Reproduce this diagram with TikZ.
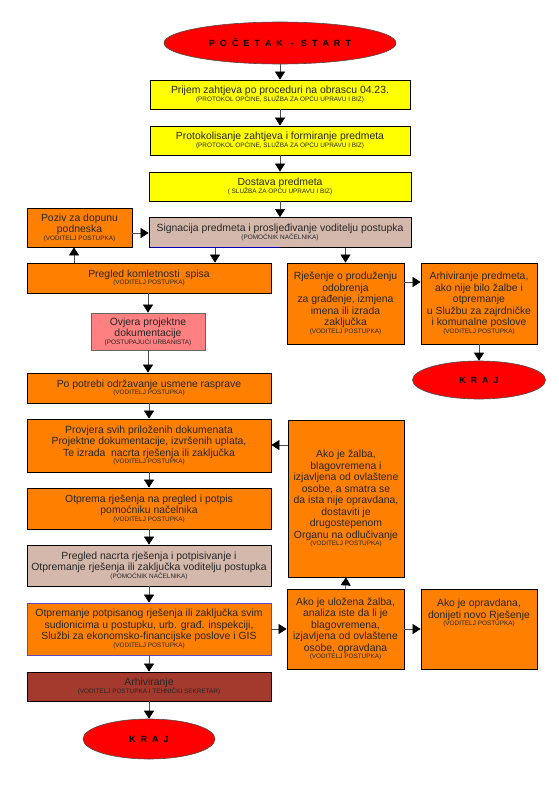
\documentclass[tikz,border=0pt]{standalone}
\usepackage{fontspec}
\setmainfont{Liberation Sans}
\usetikzlibrary{arrows.meta,shapes.geometric,calc}
\definecolor{cyel}{RGB}{255,255,0}
\definecolor{corange}{RGB}{255,128,0}
\definecolor{cbeige}{RGB}{212,184,172}
\definecolor{cpink}{RGB}{255,128,128}
\definecolor{cbrown}{RGB}{164,58,46}
\definecolor{cred}{RGB}{255,0,0}
\definecolor{cpurple}{RGB}{96,72,196}
\newcommand{\sm}[1]{{\fontsize{6.4}{7}\selectfont #1}}
\tikzset{
  box/.style={draw=black, line width=0.8pt, rectangle, align=center, inner sep=1pt,
    font=\fontsize{10.4}{11.5}\selectfont, text=black!85},
  term/.style={draw=black!70, line width=0.6pt, ellipse, fill=cred, inner sep=0pt,
    font=\bfseries\fontsize{9}{10}\selectfont},
  arr/.style={draw=black!70, line width=0.6pt, -{Triangle[width=10pt,length=8pt,color=black]}},
}
\begin{document}
\begin{tikzpicture}[x=1pt,y=-1pt]
\useasboundingbox (0,0) rectangle (559,792);
% terminals
\node[term, minimum width=232, minimum height=42] (start) at (280,43) {P~~O~~Č~~E~~T~~A~~K~~~-~~~S~~T~~A~~R~~T};
% top column
\node[box, fill=cyel, minimum width=260, minimum height=29] (b1) at (280,94.5)
  {Prijem zahtjeva po proceduri na obrascu 04.23.\\[-4pt]\sm{(PROTOKOL OPĆINE, SLUŽBA ZA OPĆU UPRAVU I BIZ)}};
\node[box, fill=cyel, minimum width=260, minimum height=29] (b2) at (280,140.5)
  {Protokolisanje zahtjeva i formiranje predmeta\\[-4pt]\sm{(PROTOKOL OPĆINE, SLUŽBA ZA OPĆU UPRAVU I BIZ)}};
\node[box, fill=cyel, minimum width=262, minimum height=29] (b3) at (280,186.5)
  {Dostava predmeta\\[-4pt]\sm{( SLUŽBA ZA OPĆU UPRAVU I BIZ)}};
\node[box, fill=cbeige, minimum width=262, minimum height=30] (b4) at (280,232.5)
  {Signacija predmeta i prosljeđivanje voditelju postupka\\[-4pt]\sm{(POMOĆNIK NAČELNIKA)}};
\draw[blue!70!black, line width=1pt] (149.5,247.5) -- (280,247.5);
% left side
\node[box, fill=corange, minimum width=105, minimum height=39] (poziv) at (79.5,227.5)
  {Poziv za dopunu\\podneska\\[-4pt]\sm{(VODITELJ POSTUPKA)}};
\node[box, fill=corange, minimum width=244, minimum height=30] (pregled) at (149,278)
  {Pregled komletnosti\ \ spisa\\[-4pt]\sm{(VODITELJ POSTUPKA)}};
\node[box, fill=cpink, draw=black!60, minimum width=114, minimum height=37] (ovjera) at (148,331.5)
  {Ovjera projektne\\dokumentacije\\[-4pt]\sm{(POSTUPAJUĆI URBANISTA)}};
\node[box, fill=corange, minimum width=244, minimum height=30] (potrebi) at (149,388)
  {Po potrebi održavanje usmene rasprave\\[-4pt]\sm{(VODITELJ POSTUPKA)}};
\node[box, fill=corange, minimum width=244, minimum height=53] (provjera) at (149,445.5)
  {Provjera svih priloženih dokumenata\\Projektne dokumentacije, izvršenih uplata,\\Te izrada\ \ nacrta rješenja ili zaključka\\[-4pt]\sm{(VODITELJ POSTUPKA)}};
\node[box, fill=corange, minimum width=244, minimum height=41] (otprema) at (149,508.5)
  {Otprema rješenja na pregled i potpis\\pomoćniku načelnika\\[-4pt]\sm{(VODITELJ POSTUPKA)}};
\node[box, fill=cbeige, minimum width=244, minimum height=41] (nacrta) at (149,565.5)
  {Pregled nacrta rješenja i potpisivanje i\\Otpremanje rješenja ili zaključka voditelju postupka\\[-4pt]\sm{(POMOĆNIK NAČELNIKA)}};
\node[box, fill=corange, draw=cpurple, minimum width=244, minimum height=52] (otpremanje) at (149,629)
  {Otpremanje potpisanog rješenja ili zaključka svim\\sudionicima u postupku, urb. građ. inspekciji,\\Službi za ekonomsko-financijske poslove i GIS\\[-4pt]\sm{(VODITELJ POSTUPKA)}};
\node[box, fill=cbrown, minimum width=244, minimum height=29] (arhiv) at (149,686.5)
  {Arhiviranje\\[-4pt]\sm{(VODITELJ POSTUPKA I TEHNIČKI SEKRETAR)}};
\node[term, minimum width=132, minimum height=40] (kraj2) at (149,739) {K~~R~~A~~J};
% right side
\node[box, fill=corange, minimum width=117, minimum height=81] (rjesenje) at (345.5,303.5)
  {Rješenje o produženju\\odobrenja\\za građenje, izmjena\\imena ili izrada\\zaključka\\[-4pt]\sm{(VODITELJ POSTUPKA)}};
\node[box, fill=corange, minimum width=116, minimum height=81] (arhpred) at (479,303.5)
  {Arhiviranje predmeta,\\ako nije bilo žalbe i\\otpremanje\\u Službu za zajrdničke\\i komunalne poslove\\[-4pt]\sm{(VODITELJ POSTUPKA)}};
\node[term, minimum width=133, minimum height=38] (kraj1) at (479,380) {K~~R~~A~~J};
\node[box, fill=corange, minimum width=116, minimum height=157] (zalba) at (346,498.5)
  {Ako je žalba,\\blagovremena i\\izjavljena od ovlaštene\\osobe, a smatra se\\da ista nije opravdana,\\dostaviti je\\drugostepenom\\Organu na odlučivanje\\[-4pt]\sm{(VODITELJ POSTUPKA)}};
\node[box, fill=corange, minimum width=117, minimum height=80] (ulozena) at (345.5,629)
  {Ako je uložena žalba,\\analiza iste da li je\\blagovremena,\\izjavljena od ovlaštene\\osobe, opravdana\\[-4pt]\sm{(VODITELJ POSTUPKA)}};
\node[box, fill=corange, minimum width=116, minimum height=80] (opravdana) at (479,629) {};
\node[box, draw=none, fill=none, anchor=north] (opravdanatxt) at ($(opravdana.north)+(0,9)$)
  {Ako je opravdana,\\donijeti novo Rješenje\\[-4pt]\sm{(VODITELJ POSTUPKA)}};
% helper coordinates
\coordinate (c215) at (215,0);
\coordinate (c74) at (74,0);
% connectors
\draw[arr] (start) -- (b1);
\draw[arr] (b1) -- (b2);
\draw[arr] (b2) -- (b3);
\draw[arr] (b3) -- (b4);
\draw[arr] ([yshift=-5.5pt]poziv.east) -- ([yshift=-5.5pt]poziv.east -| b4.west);
\draw[arr] (pregled.north -| c74) -- (poziv.south -| c74);
\draw[arr] (b4.south -| c215) -- (pregled.north -| c215);
\draw[arr] (b4.south -| rjesenje.north) -- (rjesenje.north);
\draw[arr] ([yshift=21.5pt]rjesenje.east) -- ([yshift=21.5pt]rjesenje.east -| arhpred.west);
\draw[arr] (arhpred) -- (kraj1);
\draw[arr] (pregled.south -| ovjera.north) -- (ovjera.north);
\draw[arr] (ovjera.south) -- (ovjera.south |- potrebi.north);
\draw[arr] (potrebi) -- (provjera);
\draw[arr] (provjera) -- (otprema);
\draw[arr] (otprema) -- (nacrta);
\draw[arr] (nacrta) -- (otpremanje);
\draw[arr] (otpremanje) -- (arhiv);
\draw[arr] (arhiv) -- (kraj2);
\draw[arr] ([yshift=53.5pt]zalba.west) -- ([yshift=53.5pt]zalba.west -| provjera.east);
\draw[arr] (otpremanje.east) -- (ulozena.west);
\draw[arr] (ulozena.east) -- (opravdana.west);
\draw[arr] (ulozena.north) -- (zalba.south);
\end{tikzpicture}
\end{document}
